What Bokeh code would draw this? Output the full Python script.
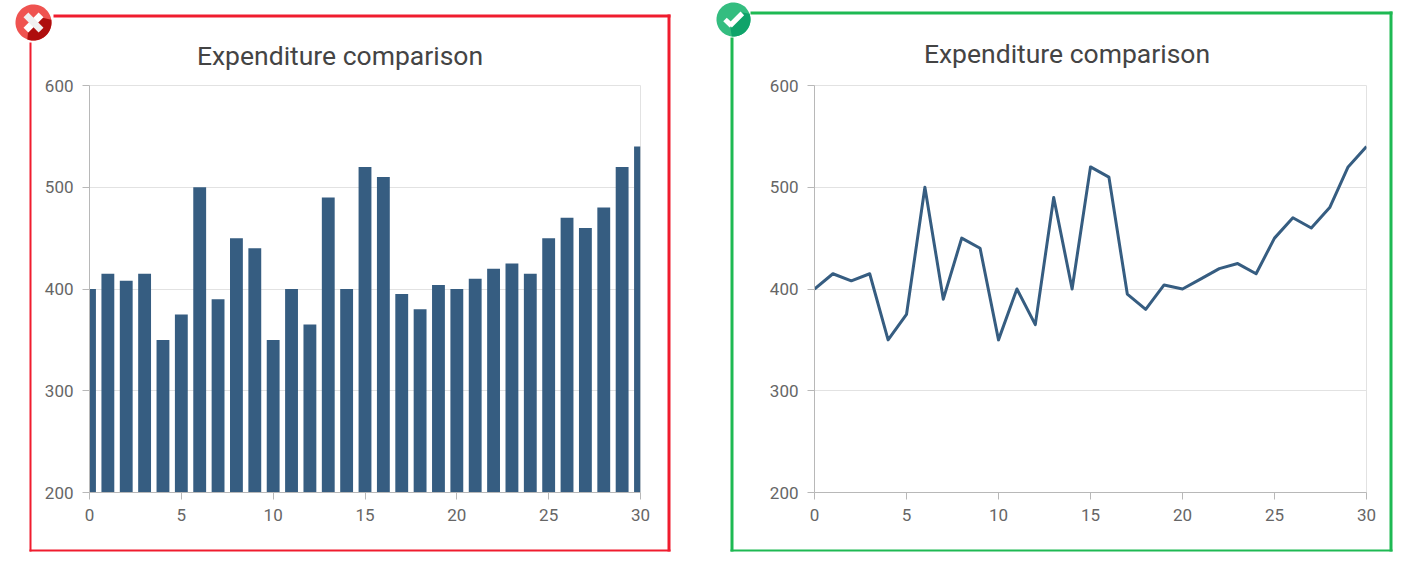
import numpy as np
from bokeh.embed import file_html
from bokeh.resources import INLINE
from bokeh.plotting import figure
from bokeh.core.properties import value
from bokeh.layouts import row, column
from bokeh.models import FixedTicker, Range1d

days = list(range(31))
expenditure = [400, 415, 408, 415, 350, 375, 500, 390, 450, 440, 350, 400, 365, 490, 400, 520,
               510, 395, 380, 404, 400, 410, 420, 425, 415, 450, 470, 460, 480, 520, 540]
x_ticks = [0, 5, 10, 15, 20, 25, 30]
y_ticks = [200, 300, 400, 500, 600]
chart_title = "Expenditure comparison"

SERIES = "#365d81"
AXIS = "#b8b8b8"
GRID = "#e2e2e2"
TICK_TEXT = "#666666"
TITLE_TEXT = "#444444"
FONT = "Roboto"
RED = "#f01c2e"
GREEN = "#1eb953"
W, H = 1400, 560


def chart(left, frame_w):
    p = figure(width=W, height=H, frame_width=frame_w, frame_height=407,
               min_border_left=left, min_border_right=W - left - frame_w,
               min_border_top=85, min_border_bottom=H - 85 - 407,
               x_range=Range1d(0, 30), y_range=Range1d(200, 600),
               toolbar_location=None, output_backend="svg",
               border_fill_color=None, background_fill_color=None)
    p.margin = (0, 0, 0, 0)
    p.outline_line_color = GRID
    p.xgrid.visible = False
    p.ygrid.grid_line_color = GRID
    p.ygrid.grid_line_width = 1
    p.xaxis.ticker = FixedTicker(ticks=x_ticks)
    p.yaxis.ticker = FixedTicker(ticks=y_ticks)
    for ax in (p.xaxis[0], p.yaxis[0]):
        ax.axis_line_color = AXIS
        ax.major_tick_line_color = AXIS
        ax.minor_tick_line_color = None
        ax.major_tick_out = 7
        ax.major_tick_in = 0
        ax.major_label_text_color = TICK_TEXT
        ax.major_label_text_font = FONT
        ax.major_label_text_font_size = "17px"
        ax.major_label_text_font_style = "normal"
        ax.major_label_standoff = 9
    p.yaxis[0].major_label_orientation = "horizontal"
    return p


# Page-sized layer for the frames, badges and titles; its ranges are page pixels.
deco = figure(width=W, height=H, frame_width=W, frame_height=H,
              x_range=Range1d(0, W), y_range=Range1d(H, 0),
              min_border=0, x_axis_location=None, y_axis_location=None,
              toolbar_location=None, output_backend="svg", outline_line_color=None)
deco.margin = (0, 0, 0, 0)
deco.grid.visible = False


def frame_box(l0, l1, t0, t1, r0, r1, b0, b1, gap_left_top, gap_top_left, color):
    deco.quad(left=[gap_top_left, l0, l0, r0],
              right=[r1, r1, l1, r1],
              top=[t0, b0, gap_left_top, t0],
              bottom=[t1, b1, b1, b1],
              fill_color=color, line_color=None)


def disc(cx, cy, r, a0=0.0, a1=2 * np.pi):
    t = np.linspace(a0, a1, 72)
    return cx + r * np.cos(t), cy + r * np.sin(t)


def stroke(points, w, color):
    (x0, y0), (x1, y1) = points
    dx, dy = x1 - x0, y1 - y0
    n = np.hypot(dx, dy)
    ox, oy = -dy / n * w / 2, dx / n * w / 2
    deco.patch([x0 + ox, x1 + ox, x1 - ox, x0 - ox], [y0 + oy, y1 + oy, y1 - oy, y0 - oy],
               fill_color=color, line_color=None)


def icon_bad(cx, cy, r):
    xs, ys = disc(cx, cy, r)
    deco.patch(xs, ys, fill_color="#ef5350", line_color=None)
    xs, ys = disc(cx, cy, r, -0.15, np.pi / 2 + 0.35)
    deco.patch(np.r_[xs, cx - 5, cx + 8], np.r_[ys, cy + 5, cy - 5],
               fill_color="#ae0d0d", line_color=None)
    k = r * 0.42
    stroke([(cx - k, cy + k), (cx + k, cy - k)], r * 0.38, "#ffffff")
    stroke([(cx - k, cy - k), (cx + k, cy + k)], r * 0.38, "#f0f0f0")


def icon_good(cx, cy, r):
    xs, ys = disc(cx, cy, r)
    deco.patch(xs, ys, fill_color="#34bd80", line_color=None)
    xs, ys = disc(cx, cy, r, -0.35, np.pi / 2 + 0.1)
    deco.patch(np.r_[xs, cx - 3, cx + 9], np.r_[ys, cy + 9, cy - 7],
               fill_color="#0fa36a", line_color=None)
    stroke([(cx - r * 0.5, cy), (cx - r * 0.12, cy + r * 0.36)], r * 0.3, "#ffffff")
    stroke([(cx - r * 0.2, cy + r * 0.36), (cx + r * 0.52, cy - r * 0.36)], r * 0.3, "#ffffff")


def title(cx, baseline):
    deco.text(x=[cx], y=[baseline], text=[chart_title], text_font=value(FONT),
              text_font_size="26.5px", text_color=TITLE_TEXT, text_align="center",
              text_baseline="alphabetic")


frame_box(29, 31, 14, 17, 667, 670, 549, 551, 42, 53, RED)
icon_bad(33, 22, 18)
title(339.5, 55)

frame_box(730, 733, 11, 14, 1389, 1392, 549, 551, 37, 750, GREEN)
icon_good(733, 19, 17)
title(1066.5, 53)

left = chart(89, 551)
left.vbar(x=days, top=expenditure, bottom=200, width=0.7, fill_color=SERIES, line_color=None)

right = chart(814, 552)
right.line(x=days, y=expenditure, line_color=SERIES, line_width=3, line_join="round")

layout = row(column(deco, margin=(0, 0, 0, 0)),
             column(left, margin=(0, 0, 0, -W)),
             column(right, margin=(0, 0, 0, -W)), spacing=0)
open("out.html", "w").write(file_html(layout, INLINE))
